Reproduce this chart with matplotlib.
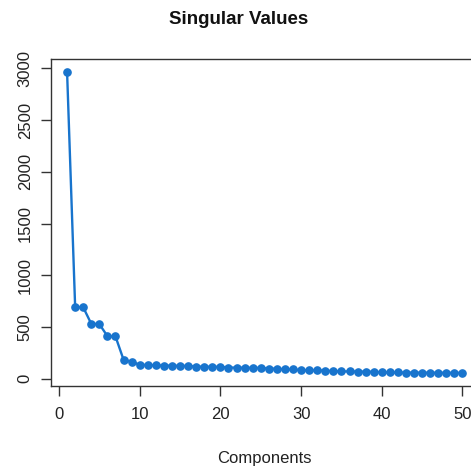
import matplotlib
matplotlib.use('Agg')
import matplotlib.pyplot as plt

# singular values
components = list(range(1, 51))
singular_values = [2965, 693, 690, 530, 528, 411, 408, 183, 163, 135,
                   132, 128, 127, 126, 124, 123, 117, 116, 115, 114,
                   108, 107, 106, 105, 104, 98, 97, 90, 89, 82,
                   81, 80, 79, 72, 71, 70, 69, 68, 67, 61,
                   60, 60, 59, 59, 58, 58, 57, 57, 56, 56]
x_ticks = [0, 10, 20, 30, 40, 50]
y_ticks = [0, 500, 1000, 1500, 2000, 2500, 3000]

plt.rcParams['font.family'] = ['Liberation Sans', 'DejaVu Sans']

W, H = 471, 467
fig = plt.figure(figsize=(W / 100, H / 100), dpi=100)

# axes box in pixels (box runs past the right edge, as in the reference)
left, right, top, bottom = 50.7, 478.3, 59, 385.7
ax = fig.add_axes([left / W, 1 - bottom / H, (right - left) / W, (bottom - top) / H])

blue = '#1874CD'
ax.plot(components, singular_values, color=blue, lw=1.7, marker='o',
        markersize=5.2, markerfacecolor=blue, markeredgecolor=blue, clip_on=False)

ax.set_xlim(-1.03, 51.96)
ax.set_ylim(-67.7, 3090)
ax.set_xticks(x_ticks)
ax.set_yticks(y_ticks)
ax.set_yticklabels([str(v) for v in y_ticks], rotation=90, va='center')

for s in ax.spines.values():
    s.set_color('#333333')
    s.set_linewidth(1)
ax.tick_params(direction='out', length=7, width=1, color='#333333',
               labelsize=12, labelcolor='#222222')
ax.tick_params(axis='x', pad=8)
ax.tick_params(axis='y', pad=6)

ax.set_xlabel('Components', fontsize=12, color='#222222', labelpad=21)
fig.text(239 / W, 1 - 20 / H, 'Singular Values', ha='center', va='center',
         fontsize=13.5, fontweight='bold', color='#111111')

fig.savefig('out.png', dpi=100)
